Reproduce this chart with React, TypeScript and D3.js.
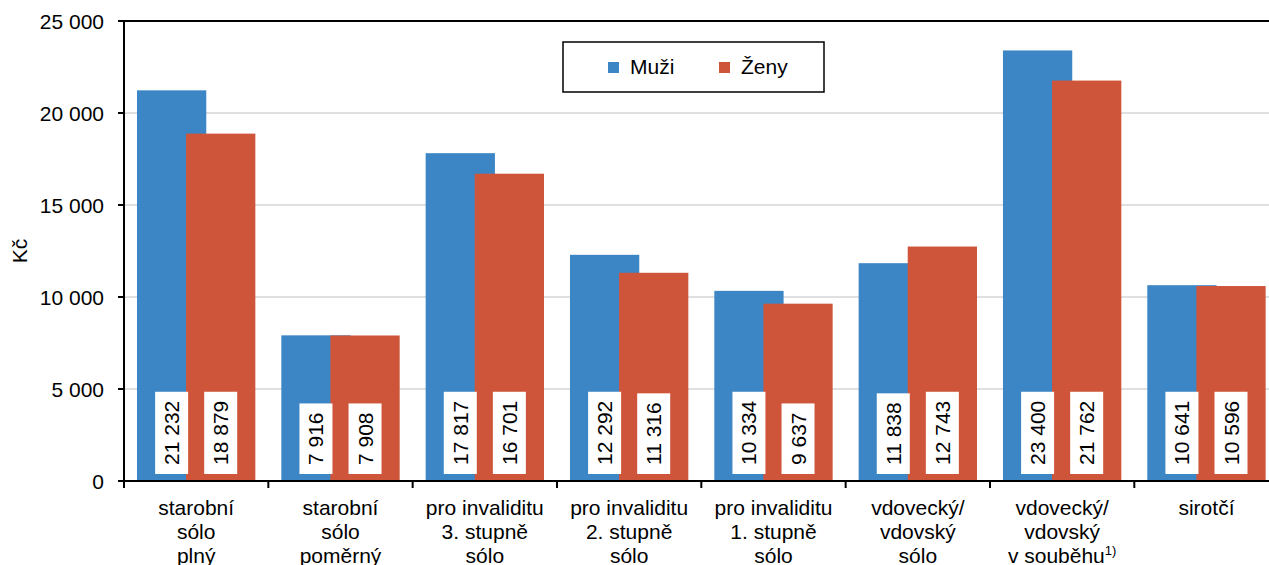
import { useEffect, useRef } from 'react';
import * as d3 from 'd3';

// Chart data (Kč)
const categories: string[][] = [
  ['starobní', 'sólo', 'plný'],
  ['starobní', 'sólo', 'poměrný'],
  ['pro invaliditu', '3. stupně', 'sólo'],
  ['pro invaliditu', '2. stupně', 'sólo'],
  ['pro invaliditu', '1. stupně', 'sólo'],
  ['vdovecký/', 'vdovský', 'sólo'],
  ['vdovecký/', 'vdovský', 'v souběhu'],
  ['sirotčí'],
];
const muzi = [21232, 7916, 17817, 12292, 10334, 11838, 23400, 10641];
const zeny = [18879, 7908, 16701, 11316, 9637, 12743, 21762, 10596];
const yTicks = [0, 5000, 10000, 15000, 20000, 25000];
const seriesNames = ['Muži', 'Ženy'];

const BLUE = '#3d86c6';
const RED = '#cf553a';
const FONT = '"Liberation Sans", Arial, sans-serif';

export default function App() {
  const svgRef = useRef<SVGSVGElement>(null);

  useEffect(() => {
    if (!svgRef.current) return;
    const svg = d3.select(svgRef.current);
    svg.selectAll('*').remove();

    const width = 1269;
    const height = 565;
    const margin = { top: 21, left: 124, bottom: 84 };
    const plotBottom = height - margin.bottom; // 481

    const locale = d3.formatLocale({ decimal: ',', thousands: '\u00a0', grouping: [3], currency: ['', ' Kč'] });
    const fmt = locale.format(',d');

    const x = d3.scaleBand<number>()
      .domain(d3.range(categories.length))
      .range([margin.left, margin.left + categories.length * 144.33])
      .padding(0);
    const y = d3.scaleLinear().domain([0, 25000]).range([plotBottom, margin.top]);

    const band = x.bandwidth();
    const barW = band * 0.48;
    const offsets = [band * 0.09, band * 0.43];

    const g = svg.append('g').attr('font-family', FONT);

    // gridlines
    g.selectAll('.grid')
      .data(yTicks.filter(t => t > 0 && t < 25000))
      .join('line')
      .attr('x1', margin.left)
      .attr('x2', width)
      .attr('y1', d => y(d))
      .attr('y2', d => y(d))
      .attr('stroke', '#c0c0c0')
      .attr('stroke-width', 1);

    // bars
    const series = [muzi, zeny];
    const colors = [BLUE, RED];
    series.forEach((vals, si) => {
      g.append('g')
        .selectAll('rect')
        .data(vals)
        .join('rect')
        .attr('x', (_, i) => (x(i) as number) + offsets[si])
        .attr('width', barW)
        .attr('y', d => y(d))
        .attr('height', d => plotBottom - y(d))
        .attr('fill', colors[si]);
    });

    // data labels (white boxes, rotated text)
    series.forEach((vals, si) => {
      vals.forEach((v, i) => {
        const cx = (x(i) as number) + offsets[si] + barW / 2;
        const lg = g.append('g');
        const box = lg.append('rect').attr('fill', '#fff');
        const t = lg.append('text')
          .attr('font-size', 21)
          .attr('fill', '#000')
          .attr('text-anchor', 'middle')
          .text(fmt(v));
        const len = (t.node() as SVGTextElement).getComputedTextLength();
        const boxH = len + 18;
        const boxW = 33;
        const bottom = plotBottom - 7;
        const cy = bottom - boxH / 2;
        box.attr('x', cx - boxW / 2).attr('y', bottom - boxH).attr('width', boxW).attr('height', boxH);
        t.attr('transform', 'translate(' + (cx + 7.5) + ',' + cy + ') rotate(-90)');
      });
    });

    // axes lines
    g.append('line')
      .attr('x1', margin.left).attr('x2', margin.left)
      .attr('y1', margin.top).attr('y2', plotBottom)
      .attr('stroke', '#000').attr('stroke-width', 2);
    g.append('line')
      .attr('x1', margin.left - 6).attr('x2', width)
      .attr('y1', margin.top).attr('y2', margin.top)
      .attr('stroke', '#000').attr('stroke-width', 2);
    g.append('line')
      .attr('x1', margin.left - 6).attr('x2', width)
      .attr('y1', plotBottom).attr('y2', plotBottom)
      .attr('stroke', '#000').attr('stroke-width', 2);

    // y ticks
    g.selectAll('.ytick')
      .data(yTicks)
      .join('line')
      .attr('x1', margin.left - 6).attr('x2', margin.left)
      .attr('y1', d => y(d)).attr('y2', d => y(d))
      .attr('stroke', '#000').attr('stroke-width', 2);
    g.selectAll('.ylab')
      .data(yTicks)
      .join('text')
      .attr('x', 104)
      .attr('y', d => y(d))
      .attr('dy', '0.36em')
      .attr('text-anchor', 'end')
      .attr('font-size', 21)
      .text(d => fmt(d));

    g.append('text')
      .attr('transform', 'translate(27,251) rotate(-90)')
      .attr('text-anchor', 'middle')
      .attr('font-size', 21)
      .text('Kč');

    // x ticks
    g.selectAll('.xtick')
      .data(d3.range(categories.length + 1))
      .join('line')
      .attr('x1', d => margin.left + d * band)
      .attr('x2', d => margin.left + d * band)
      .attr('y1', plotBottom).attr('y2', plotBottom + 7)
      .attr('stroke', '#000').attr('stroke-width', 2);

    // category labels
    categories.forEach((lines, i) => {
      const cx = (x(i) as number) + band / 2;
      const t = g.append('text')
        .attr('text-anchor', 'middle')
        .attr('font-size', 21);
      lines.forEach((ln, li) => {
        const ts = t.append('tspan')
          .attr('x', cx)
          .attr('y', 515 + li * 24)
          .text(ln);
        if (i === 6 && li === 2) {
          ts.text(ln);
        }
      });
      if (i === 6) {
        // footnote superscript
        t.attr('text-anchor', 'middle');
        t.append('tspan')
          .attr('dy', -8)
          .attr('font-size', 13)
          .text('1)');
      }
    });

    // legend
    const lgX = 563;
    const lgY = 42;
    g.append('rect')
      .attr('x', lgX).attr('y', lgY)
      .attr('width', 261).attr('height', 50)
      .attr('fill', '#fff')
      .attr('stroke', '#000').attr('stroke-width', 1.5);
    const legendPos = [608, 719];
    seriesNames.forEach((name, i) => {
      g.append('rect')
        .attr('x', legendPos[i]).attr('y', 62)
        .attr('width', 11).attr('height', 11)
        .attr('fill', colors[i]);
      g.append('text')
        .attr('x', legendPos[i] + 22)
        .attr('y', 74)
        .attr('font-size', 21)
        .text(name);
    });
  }, []);

  return (
    <svg
      ref={svgRef}
      width={1269}
      height={565}
      style={{ position: 'absolute', left: 0, top: 0, background: '#fff' }}
    />
  );
}
